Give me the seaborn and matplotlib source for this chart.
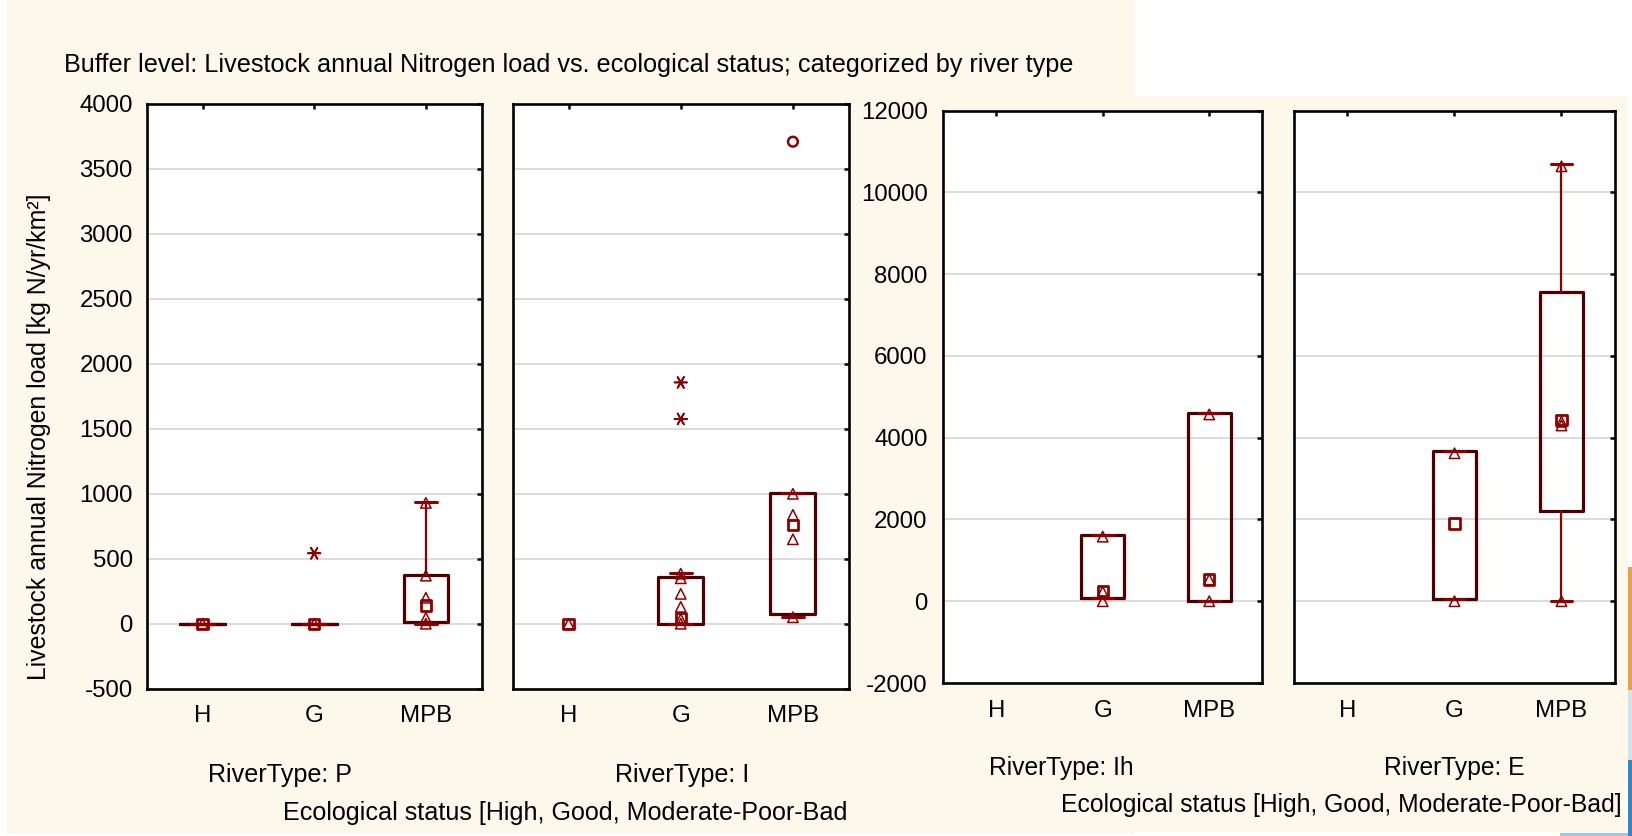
import numpy as np
import pandas as pd
import matplotlib
matplotlib.use("Agg")
import matplotlib.pyplot as plt
from matplotlib.patches import Rectangle
import seaborn as sns

nan = np.nan

# Ecological status classes on the x axis
STATUS = ["H", "G", "MPB"]

# Individual buffer observations (open triangles), per status H / G / MPB
P_POINTS = [[0], [0], [930, 370, 200, 45, 0]]
I_POINTS = [[0], [385, 350, 230, 130, 35, 0], [1000, 838, 650, 50]]
IH_POINTS = [[], [1580, 230, 0], [4570, 533, 0]]
E_POINTS = [[], [3620, 0], [10640, 4390, 4300, 0]]

# Medians (open squares)
P_MED = [0, 0, 140]
I_MED = [0, 44, 760]
IH_MED = [nan, 250, 533]
E_MED = [nan, 1900, 4440]

# Boxes: 25% - 75%
P_Q1 = [0, 0, 10]
P_Q3 = [0, 0, 378]
I_Q1 = [nan, 0, 75]
I_Q3 = [nan, 362, 1008]
IH_Q1 = [nan, 90, 0]
IH_Q3 = [nan, 1615, 4615]
E_Q1 = [nan, 50, 2200]
E_Q3 = [nan, 3678, 7570]

# Whiskers: non-outlier range
P_LO = [0, 0, 0]
P_HI = [0, 0, 936]
I_LO = [nan, 0, 50]
I_HI = [nan, 388, 1010]
IH_LO = [nan, 90, 0]
IH_HI = [nan, 1615, 4615]
E_LO = [nan, 50, 0]
E_HI = [nan, 3678, 10690]

# Extremes (stars) and outliers (circles)
P_EXT_STATUS = ["G"]
P_EXT_VALUE = [542]
I_EXT_STATUS = ["G", "G"]
I_EXT_VALUE = [1857, 1576]
I_OUT_STATUS = ["MPB"]
I_OUT_VALUE = [3710]

RIVER_LABELS = ["RiverType: P", "RiverType: I", "RiverType: Ih", "RiverType: E"]
TITLE = ("Buffer level: Livestock annual Nitrogen load vs. ecological status; "
         "categorized by river type")
YLABEL = "Livestock annual Nitrogen load [kg N/yr/km\u00b2]"
XLABEL_LEFT = "Ecological status [High, Good, Moderate-Poor-Bad"
XLABEL_RIGHT = "Ecological status [High, Good, Moderate-Poor-Bad]"

LEFT_TICKS = list(range(-500, 4001, 500))
RIGHT_TICKS = list(range(-2000, 12001, 2000))

# ---------------------------------------------------------------- styling
sns.set_theme(style="white")
plt.rcParams["font.family"] = ["Liberation Sans", "DejaVu Sans"]
plt.rcParams["axes.unicode_minus"] = False

W, H = 1633, 836
CREAM = "#FDF8EC"
BOX = "#4E0000"
MARK = "#8E0000"
GRID = "#DCDCDC"

fig = plt.figure(figsize=(W / 100, H / 100), dpi=100, facecolor="white")


def frect(x0, y0, x1, y1, color, z=-10):
    fig.patches.append(Rectangle((x0 / W, 1 - y1 / H), (x1 - x0) / W, (y1 - y0) / H,
                                 transform=fig.transFigure, color=color, zorder=z,
                                 lw=0))


# page backgrounds
frect(7, 0, 1135, 834, CREAM)
frect(860, 96, 1628, 832, CREAM)
# edge of neighbouring artwork
frect(1628, 567, W, 690, "#EFA23A")
frect(1628, 690, W, 760, "#CFE3F2")
frect(1628, 760, W, H, "#2C86D6")
frect(1560, 833, 1628, H, "#9CC8EE")


def add_axes(l, t, r, b):
    return fig.add_axes([l / W, 1 - b / H, (r - l) / W, (b - t) / H])


def long_frame(groups):
    status = [s for s, vals in zip(STATUS, groups) for _ in vals]
    value = [v for vals in groups for v in vals]
    return pd.DataFrame({"status": status, "value": value})


def open_strip(ax, df, marker, size, lw):
    before = len(ax.collections)
    sns.stripplot(data=df, x="status", y="value", order=STATUS, jitter=False,
                  marker=marker, size=size, linewidth=lw, color=MARK,
                  edgecolor=MARK, ax=ax, zorder=4)
    for coll in ax.collections[before:]:
        coll.set_facecolor("none")
        coll.set_edgecolor(MARK)
        coll.set_linewidth(lw)


def draw_panel(ax, points, med, q1, q3, lo, hi, ext, outl, ylim, yticks, labels):
    ax.set_facecolor("white")
    ax.set_axisbelow(True)

    open_strip(ax, long_frame(points), "^", 7.5, 1.1)

    med_df = pd.DataFrame({"status": [s for s, m in zip(STATUS, med) if not np.isnan(m)],
                           "value": [m for m in med if not np.isnan(m)]})
    open_strip(ax, med_df, "s", 7.5, 2.0)

    if ext is not None:
        open_strip(ax, pd.DataFrame({"status": ext[0], "value": ext[1]}),
                   (6, 2, 90), 9, 1.2)
    if outl is not None:
        open_strip(ax, pd.DataFrame({"status": outl[0], "value": outl[1]}),
                   "o", 7, 1.8)

    stats, pos = [], []
    for i in range(len(STATUS)):
        if np.isnan(q1[i]):
            continue
        stats.append(dict(med=med[i], q1=q1[i], q3=q3[i],
                          whislo=lo[i], whishi=hi[i], fliers=[]))
        pos.append(i)
    ax.bxp(stats, positions=pos, widths=0.4, capwidths=0.2, showfliers=False,
           manage_ticks=False,
           boxprops=dict(color=BOX, lw=2.3),
           whiskerprops=dict(color=MARK, lw=1.6),
           capprops=dict(color=MARK, lw=2.2),
           medianprops=dict(linestyle="none"))

    ax.set_xlim(-0.5, 2.5)
    ax.set_ylim(*ylim)
    ax.set_yticks(yticks)
    ax.set_xticks(range(len(STATUS)))
    ax.set_xticklabels(STATUS)
    ax.set_xlabel("")
    ax.set_ylabel("")
    ax.yaxis.grid(True, color=GRID, lw=1.4)
    ax.xaxis.grid(False)
    for sp in ax.spines.values():
        sp.set_visible(True)
        sp.set_color("black")
        sp.set_linewidth(1.9)
    ax.tick_params(axis="both", direction="in", top=True, right=True,
                   length=3.5, width=1.8, color="black", labelsize=17.3,
                   labelcolor="black")
    ax.tick_params(axis="x", pad=12)
    ax.tick_params(axis="y", pad=10 if labels else 0, labelleft=labels)


ax_p = add_axes(146.7, 104, 481.7, 688.7)
ax_i = add_axes(512.5, 104, 849, 688.7)
ax_ih = add_axes(943, 110.7, 1262.5, 683)
ax_e = add_axes(1294, 110.7, 1615, 683)

draw_panel(ax_p, P_POINTS, P_MED, P_Q1, P_Q3, P_LO, P_HI,
           (P_EXT_STATUS, P_EXT_VALUE), None, (-500, 4000), LEFT_TICKS, True)
draw_panel(ax_i, I_POINTS, I_MED, I_Q1, I_Q3, I_LO, I_HI,
           (I_EXT_STATUS, I_EXT_VALUE), (I_OUT_STATUS, I_OUT_VALUE),
           (-500, 4000), LEFT_TICKS, False)
draw_panel(ax_ih, IH_POINTS, IH_MED, IH_Q1, IH_Q3, IH_LO, IH_HI,
           None, None, (-2000, 12000), RIGHT_TICKS, True)
draw_panel(ax_e, E_POINTS, E_MED, E_Q1, E_Q3, E_LO, E_HI,
           None, None, (-2000, 12000), RIGHT_TICKS, False)
ax_ih.tick_params(axis="y", pad=11)

# ---------------------------------------------------------------- texts
renderer = fig.canvas.get_renderer()


def fit_text(s, x0, x1, yc, rotation=0):
    if rotation:
        t = fig.text(x0 / W, 1 - yc / H, s, rotation=90, ha="center", va="center",
                     fontsize=12, color="black")
        h = t.get_window_extent(renderer).height
        t.set_fontsize(12 * x1 / h)
    else:
        t = fig.text(x0 / W, 1 - yc / H, s, ha="left", va="center",
                     fontsize=12, color="black")
        w = t.get_window_extent(renderer).width
        t.set_fontsize(12 * (x1 - x0) / w)
    return t


fit_text(TITLE, 64, 1077, 65)
fit_text(RIVER_LABELS[0], 208, 352, 775)
fit_text(RIVER_LABELS[1], 615, 749, 775)
fit_text(RIVER_LABELS[2], 989, 1134, 768)
fit_text(RIVER_LABELS[3], 1384, 1525, 768)
fit_text(XLABEL_LEFT, 283, 851, 813)
fit_text(XLABEL_RIGHT, 1061, 1627, 805)
# rotated y label: centre x, length, centre y
fit_text(YLABEL, 39, 491, 437, rotation=90)

fig.savefig("out.png", dpi=100, facecolor="white")
